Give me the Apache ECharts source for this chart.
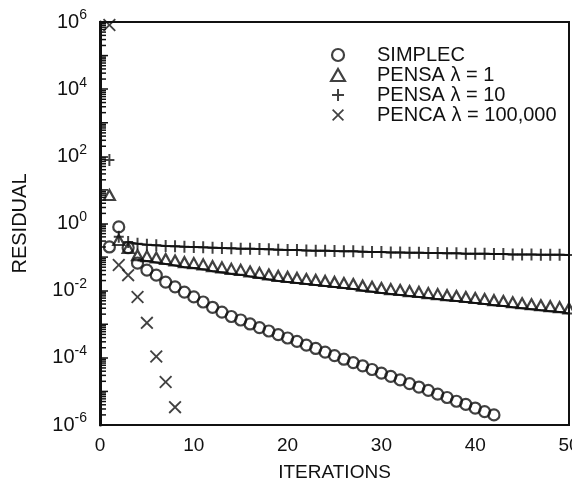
<!DOCTYPE html>
<html>
<head>
<meta charset="utf-8">
<script src="https://cdn.jsdelivr.net/npm/echarts@6/dist/echarts.min.js"></script>
<style>
html, body { margin: 0; padding: 0; background: #fff; }
#chart { width: 572px; height: 486px; }
</style>
</head>
<body>
<div id="chart"></div>
<script>
const iterations = [1, 2, 3, 4, 5, 6, 7, 8, 9, 10, 11, 12, 13, 14, 15, 16, 17, 18, 19, 20,
    21, 22, 23, 24, 25, 26, 27, 28, 29, 30, 31, 32, 33, 34, 35, 36, 37, 38, 39, 40,
    41, 42, 43, 44, 45, 46, 47, 48, 49, 50];

const seriesNames = ['SIMPLEC', 'PENSA λ = 1', 'PENSA λ = 10', 'PENCA λ = 100,000'];

// residual per iteration
const simplec = [0.20, 0.79, 0.19, 0.066, 0.041, 0.029, 0.018, 0.013, 0.0091, 0.0065,
    0.0046, 0.0032, 0.0023, 0.0017, 0.00134, 0.00102, 7.9e-4, 6.3e-4, 4.9e-4, 3.9e-4,
    3.1e-4, 2.4e-4, 1.9e-4, 1.48e-4, 1.17e-4, 9.1e-5, 7.2e-5, 5.8e-5, 4.5e-5, 3.5e-5,
    2.8e-5, 2.2e-5, 1.7e-5, 1.35e-5, 1.07e-5, 8.3e-6, 6.6e-6, 5.1e-6, 4.1e-6, 3.2e-6,
    2.5e-6, 2.0e-6];

const pensa1 = [5.0, 0.229, 0.132, 0.081, 0.076, 0.069, 0.062, 0.056, 0.050, 0.047,
    0.043, 0.038, 0.035, 0.0316, 0.0295, 0.0263, 0.024, 0.0214, 0.0195, 0.0182,
    0.017, 0.0158, 0.0148, 0.0138, 0.0129, 0.012, 0.0112, 0.0100, 0.0093, 0.0085,
    0.0079, 0.0074, 0.0069, 0.0065, 0.0060, 0.0056, 0.0052, 0.0049, 0.0046, 0.0043,
    0.0040, 0.0037, 0.0035, 0.0032, 0.0030, 0.0028, 0.0026, 0.00245, 0.0023, 0.0021];

const pensa10 = [78, 0.40, 0.282, 0.251, 0.234, 0.224, 0.214, 0.209, 0.204, 0.200,
    0.195, 0.191, 0.186, 0.182, 0.178, 0.178, 0.174, 0.170, 0.166, 0.162,
    0.162, 0.158, 0.155, 0.155, 0.151, 0.148, 0.148, 0.145, 0.141, 0.141,
    0.138, 0.138, 0.135, 0.135, 0.132, 0.132, 0.129, 0.129, 0.126, 0.126,
    0.126, 0.123, 0.123, 0.120, 0.120, 0.120, 0.117, 0.117, 0.117, 0.115];

const penca = [8.1e5, 0.058, 0.029, 0.0065, 1.1e-3, 1.1e-4, 1.9e-5, 3.4e-6];

// the straight lines start a few iterations in
const pensa1LineStart = 3;
const pensa10LineStart = 2;

const font = 'Liberation Sans, Arial, Helvetica, sans-serif';
const ink = '#111';
const textSize = 19;

function pairs(values, from) {
    return values.slice(from || 0).map((v, i) => [iterations[i + (from || 0)], v]);
}

// log minor ticks along the left axis
const logTicks = [];
for (let n = -6; n < 6; n++) {
    for (let k = 1; k <= 9; k++) {
        if (k === 1 && n % 2 === 0) continue; // majors come from the axis itself
        logTicks.push([0, k * Math.pow(10, n), k]);
    }
}

const plusPath = 'path://M4,0H6V12H4Z M0,5H10V7H0Z';
const plusIcon = 'path://M5,0H7V12H5Z M0,5H12V7H0Z';
const crossPath = 'path://M0,1.4L1.4,0L7,5.6L12.6,0L14,1.4L8.4,7L14,12.6L12.6,14L7,8.4L1.4,14L0,12.6L5.6,7Z';
const triangleIcon = 'path://M6,0L12,10.4L0,10.4Z';

const hollow = { color: 'rgba(0,0,0,0)', borderColor: ink, borderWidth: 2.2 };
const solid = { color: ink, borderWidth: 0 };

const option = {
    animation: false,
    backgroundColor: '#fff',
    grid: {
        left: 100, right: 3, top: 22, bottom: 61,
        containLabel: false,
        outerBoundsMode: 'none',
        show: true, borderColor: ink, borderWidth: 2
    },
    legend: {
        orient: 'vertical',
        left: 325,
        top: 40,
        padding: 5,
        itemWidth: 68,
        itemHeight: 12,
        itemGap: 0,
        symbolKeepAspect: true,
        selectedMode: false,
        textStyle: { fontSize: 20, color: ink, fontFamily: font },
        data: [
            { name: seriesNames[0], icon: 'circle', itemStyle: hollow },
            { name: seriesNames[1], icon: triangleIcon, itemStyle: hollow },
            { name: seriesNames[2], icon: plusIcon, itemStyle: solid },
            { name: seriesNames[3], icon: crossPath, itemStyle: solid }
        ]
    },
    xAxis: {
        type: 'value',
        min: 0,
        max: 50,
        interval: 10,
        name: 'ITERATIONS',
        nameLocation: 'middle',
        nameGap: 38,
        nameTextStyle: { fontSize: textSize, color: ink, fontFamily: font },
        axisLine: { show: true, lineStyle: { color: ink, width: 2 } },
        axisTick: { show: false },
        splitLine: { show: false },
        axisLabel: { fontSize: textSize, color: ink, fontFamily: font, margin: 11 }
    },
    yAxis: {
        type: 'log',
        logBase: 100,
        min: 1e-6,
        max: 1e6,
        name: 'RESIDUAL',
        nameLocation: 'middle',
        nameGap: 70,
        nameRotate: 90,
        nameTextStyle: { fontSize: 20, color: ink, fontFamily: font },
        axisLine: { show: true, lineStyle: { color: ink, width: 3 } },
        axisTick: { show: true, inside: true, length: 8, lineStyle: { color: ink, width: 1.5 } },
        splitLine: { show: false },
        axisLabel: {
            margin: 13,
            formatter: function (v) {
                const e = Math.round(Math.log10(v));
                return '{b|10}{s|' + e + '}';
            },
            rich: {
                b: { fontSize: 20, color: ink, fontFamily: font, lineHeight: 27 },
                s: { fontSize: 14, color: ink, fontFamily: font, verticalAlign: 'top', lineHeight: 14 }
            }
        }
    },
    series: [
        {
            type: 'custom',
            name: 'ticks',
            silent: true,
            clip: false,
            z: 5,
            data: logTicks,
            renderItem: function (params, api) {
                const p = api.coord([0, api.value(1)]);
                const len = api.value(2) === 1 ? 8 : 6;
                return {
                    type: 'line',
                    shape: { x1: p[0], y1: p[1], x2: p[0] + len, y2: p[1] },
                    style: { stroke: ink, lineWidth: 1.5 }
                };
            }
        },
        {
            type: 'line',
            name: 'pensa1 line',
            data: pairs(pensa1, pensa1LineStart),
            showSymbol: false,
            silent: true,
            lineStyle: { color: ink, width: 2 }
        },
        {
            type: 'line',
            name: 'pensa10 line',
            data: pairs(pensa10, pensa10LineStart),
            showSymbol: false,
            silent: true,
            lineStyle: { color: ink, width: 2 }
        },
        {
            type: 'scatter',
            name: seriesNames[0],
            data: pairs(simplec),
            symbol: 'circle',
            symbolSize: 11,
            itemStyle: hollow
        },
        {
            type: 'scatter',
            name: seriesNames[1],
            data: pairs(pensa1),
            symbol: 'triangle',
            symbolSize: [11, 10],
            symbolOffset: [0, -5],
            itemStyle: hollow
        },
        {
            type: 'scatter',
            name: seriesNames[2],
            data: pairs(pensa10),
            symbol: plusPath,
            symbolSize: [10, 12],
            itemStyle: solid
        },
        {
            type: 'scatter',
            name: seriesNames[3],
            data: pairs(penca),
            symbol: crossPath,
            symbolSize: 13,
            itemStyle: solid
        }
    ]
};

const chart = echarts.init(document.getElementById('chart'));
chart.setOption(option);
</script>
</body>
</html>
